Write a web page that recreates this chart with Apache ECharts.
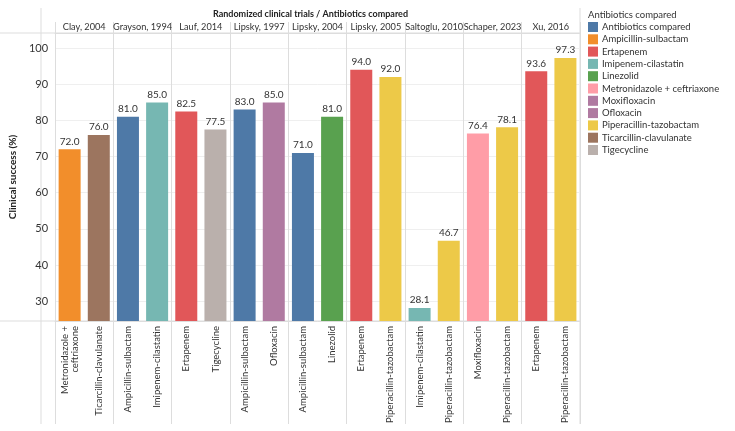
<!DOCTYPE html>
<html>
<head>
<meta charset="utf-8">
<script src="https://cdn.jsdelivr.net/npm/echarts@6/dist/echarts.min.js"></script>
<style>
  html, body { margin: 0; padding: 0; background: #fff; }
  #chart { width: 735px; height: 431px; }
</style>
</head>
<body>
<div id="chart"></div>
<script>
// 试验名称（每个试验两根柱）
const trials = ['Clay, 2004', 'Grayson, 1994', 'Lauf, 2014', 'Lipsky, 1997', 'Lipsky, 2004',
  'Lipsky, 2005', 'Saltoglu, 2010', 'Schaper, 2023', 'Xu, 2016']

// 每根柱对应的抗生素
const drugs = [
  'Metronidazole + ceftriaxone', 'Ticarcillin-clavulanate',
  'Ampicillin-sulbactam', 'Imipenem-cilastatin',
  'Ertapenem', 'Tigecycline',
  'Ampicillin-sulbactam', 'Ofloxacin',
  'Ampicillin-sulbactam', 'Linezolid',
  'Ertapenem', 'Piperacillin-tazobactam',
  'Imipenem-cilastatin', 'Piperacillin-tazobactam',
  'Moxifloxacin', 'Piperacillin-tazobactam',
  'Ertapenem', 'Piperacillin-tazobactam'
]

// 临床成功率 (%)
const success = [72.0, 76.0, 81.0, 85.0, 82.5, 77.5, 83.0, 85.0, 71.0, 81.0,
  94.0, 92.0, 28.1, 46.7, 76.4, 78.1, 93.6, 97.3]

// y 轴刻度
const yTicks = [30, 40, 50, 60, 70, 80, 90, 100]

// 图例条目（原图图例颜色顺序）
const legendNames = ['Antibiotics compared', 'Ampicillin-sulbactam', 'Ertapenem', 'Imipenem-cilastatin',
  'Linezolid', 'Metronidazole + ceftriaxone', 'Moxifloxacin', 'Ofloxacin',
  'Piperacillin-tazobactam', 'Ticarcillin-clavulanate', 'Tigecycline']
const legendColors = ['#4e79a7', '#f28e2b', '#e15759', '#76b7b2', '#59a14f', '#ff9da7',
  '#b07aa1', '#b07aa1', '#edc948', '#9c755f', '#bab0ac']

// 柱子颜色
const barColors = {
  'Ampicillin-sulbactam': '#4e79a7',
  'Metronidazole + ceftriaxone': '#f28e2b',
  'Ertapenem': '#e15759',
  'Imipenem-cilastatin': '#76b7b2',
  'Linezolid': '#59a14f',
  'Ofloxacin': '#b07aa1',
  'Moxifloxacin': '#ff9da7',
  'Piperacillin-tazobactam': '#edc948',
  'Ticarcillin-clavulanate': '#9c755f',
  'Tigecycline': '#bab0ac'
}

const FONT = 'Lato'
const GRID = { left: 41, right: 155, top: 33, bottom: 110 }
const W = 735, H = 431
const lineColor = '#dddddd'

const chart = echarts.init(document.getElementById('chart'))

const legendSeries = legendNames.map((name, i) => ({
  name,
  type: 'line',
  data: [],
  color: legendColors[i],
  itemStyle: { color: legendColors[i] }
}))

const option = {
  animation: false,
  textStyle: { fontFamily: FONT },
  title: [
    {
      text: 'Randomized clinical trials / Antibiotics compared',
      left: (GRID.left + (W - GRID.right)) / 2,
      textAlign: 'center',
      top: 10,
      padding: 0,
      textStyle: { fontFamily: FONT, fontSize: 9, fontWeight: 'bold', color: '#222' }
    },
    {
      text: 'Antibiotics compared',
      left: 588,
      top: 10,
      padding: 0,
      textStyle: { fontFamily: FONT, fontSize: 9.5, fontWeight: 'normal', color: '#333' }
    }
  ],
  legend: {
    data: legendNames,
    orient: 'vertical',
    left: 588,
    top: 22,
    icon: 'rect',
    itemWidth: 10,
    itemHeight: 10,
    itemGap: 2.3,
    selectedMode: false,
    textStyle: { fontFamily: FONT, fontSize: 9.5, color: '#333', padding: [0, 0, 0, -1] },
    padding: 0
  },
  grid: { left: GRID.left, right: GRID.right, top: GRID.top, bottom: GRID.bottom },
  xAxis: [
    {
      type: 'category',
      data: drugs,
      position: 'bottom',
      axisLine: { show: true, lineStyle: { color: lineColor } },
      axisTick: { show: false },
      axisLabel: {
        interval: 0,
        rotate: 90,
        margin: 5,
        fontSize: 9.5,
        color: '#333',
        fontFamily: FONT,
        formatter: v => v === 'Metronidazole + ceftriaxone' ? 'Metronidazole +\nceftriaxone' : v
      }
    },
    {
      type: 'category',
      data: trials,
      position: 'top',
      axisLine: { show: true, lineStyle: { color: lineColor } },
      axisTick: { show: true, length: 11, interval: 0, lineStyle: { color: lineColor } },
      axisLabel: { interval: 0, margin: 1, fontSize: 9.2, color: '#333', fontFamily: FONT },
      splitLine: { show: true, interval: 0, lineStyle: { color: lineColor } }
    },
    {
      type: 'category',
      data: trials,
      position: 'bottom',
      axisLine: { show: false },
      axisTick: { show: true, length: 103, interval: 0, lineStyle: { color: lineColor } },
      axisLabel: { show: false }
    }
  ],
  yAxis: {
    type: 'value',
    min: 24.5,
    max: 104.2,
    name: 'Clinical success (%)',
    nameLocation: 'middle',
    nameGap: 30,
    nameTextStyle: { fontFamily: FONT, fontSize: 10, fontWeight: 'bold', color: '#222' },
    axisLine: { show: false },
    axisTick: { show: false, customValues: yTicks },
    axisLabel: { customValues: yTicks, fontSize: 11, color: '#333', margin: 7, fontFamily: FONT },
    splitLine: { show: true, lineStyle: { color: '#efefef' } }
  },
  series: [
    {
      name: 'Clinical success',
      type: 'bar',
      xAxisIndex: 0,
      barWidth: 22,
      data: success.map((v, i) => ({
        value: v,
        itemStyle: { color: barColors[drugs[i]] }
      })),
      label: {
        show: true,
        position: 'top',
        distance: 3,
        fontSize: 10,
        color: '#333',
        fontFamily: FONT,
        formatter: p => p.value.toFixed(1)
      }
    },
    ...legendSeries
  ],
  graphic: [
    // 行分隔线与外框
    { type: 'line', shape: { x1: 0, y1: GRID.top, x2: W - GRID.right, y2: GRID.top }, style: { stroke: lineColor, lineWidth: 1 }, silent: true },
    { type: 'line', shape: { x1: 0, y1: H - GRID.bottom, x2: W - GRID.right, y2: H - GRID.bottom }, style: { stroke: lineColor, lineWidth: 1 }, silent: true },
    { type: 'line', shape: { x1: GRID.left, y1: 8, x2: GRID.left, y2: 424 }, style: { stroke: lineColor, lineWidth: 1 }, silent: true },
    { type: 'line', shape: { x1: W - GRID.right, y1: 8, x2: W - GRID.right, y2: 424 }, style: { stroke: lineColor, lineWidth: 1 }, silent: true }
  ]
}

chart.setOption(option)
</script>
</body>
</html>
